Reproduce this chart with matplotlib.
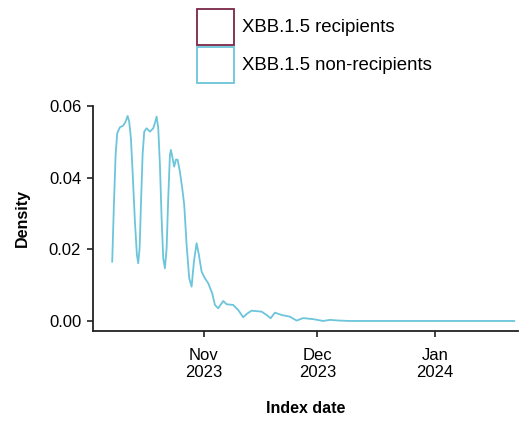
import matplotlib
matplotlib.use("Agg")
import matplotlib.pyplot as plt
from matplotlib.patches import Rectangle
import pandas as pd

plt.rcParams['font.family'] = ['Liberation Sans', 'DejaVu Sans']

# density curve: days from 2023-11-01 and density
days_from_nov1 = [-24.23, -23.78, -23.33, -22.91, -22.19, -21.32, -20.69, -20.16, -19.74, -19.29,
                  -18.84, -18.23, -17.70, -17.36, -16.99, -16.64, -16.20, -15.77, -15.14, -14.27,
                  -13.39, -12.95, -12.50, -12.07, -11.62, -11.18, -10.75, -10.30, -9.85, -9.43,
                  -8.98, -8.72, -8.27, -7.85, -7.40, -6.95, -6.34, -5.73, -5.20, -4.57,
                  -3.88, -3.25, -2.64, -1.93, -1.32, -0.61, 0.26, 1.14, 2.19, 2.91,
                  3.78, 5.10, 6.00, 7.74, 9.06, 10.38, 11.28, 12.60, 15.24, 16.57,
                  17.62, 18.76, 20.53, 22.72, 24.5, 26.2, 28.9, 31.5, 33.3, 35.9,
                  38.6, 50.0, 65.0, 82.0]
density = [0.01655, 0.03237, 0.04633, 0.05239, 0.05406, 0.05451, 0.05562, 0.05721, 0.05562, 0.05099,
           0.04167, 0.02771, 0.01842, 0.01610, 0.02029, 0.03237, 0.04633, 0.05283, 0.05378, 0.05283,
           0.05378, 0.05518, 0.05702, 0.05390, 0.04354, 0.02875, 0.01750, 0.01471, 0.02029, 0.03424,
           0.04633, 0.04773, 0.04541, 0.04307, 0.04502, 0.04502, 0.04167, 0.03704, 0.03237, 0.02121,
           0.01192, 0.00957, 0.01655, 0.02169, 0.01842, 0.01376, 0.01192, 0.01052, 0.00773, 0.00447,
           0.00354, 0.00558, 0.00466, 0.00447, 0.00307, 0.00103, 0.00195, 0.00287, 0.00260, 0.00167,
           0.00075, 0.00232, 0.00167, 0.00120, 0.00010, 0.00080, 0.00050, 0.00000, 0.00030, 0.00010,
           0.00000, 0.00000, 0.00000, 0.00000]

groups = ["XBB.1.5 recipients", "XBB.1.5 non-recipients"]
group_colors = ["#7a2646", "#6cc5db"]
tick_dates = ["2023-11-01", "2023-12-01", "2024-01-01"]
tick_labels = ["Nov\n2023", "Dec\n2023", "Jan\n2024"]

origin = pd.Timestamp("2023-11-01")
dates = [origin + pd.Timedelta(days=d) for d in days_from_nov1]

fig = plt.figure(figsize=(5.27, 4.23), dpi=100)
ax = fig.add_axes([0.1765, 0.2175, 0.8065, 0.532])

ax.plot(dates, density, color=group_colors[1], lw=1.3)

ax.set_xlim(origin + pd.Timedelta(days=-29.3), origin + pd.Timedelta(days=83.0))
ax.set_ylim(-0.0028, 0.06)
ax.set_yticks([0.0, 0.02, 0.04, 0.06])
ax.set_yticklabels(["0.00", "0.02", "0.04", "0.06"])
ax.set_xticks([pd.Timestamp(t) for t in tick_dates])
ax.set_xticklabels(tick_labels, linespacing=1.12)

for s in ["top", "right"]:
    ax.spines[s].set_visible(False)
for s in ["left", "bottom"]:
    ax.spines[s].set_linewidth(1.3)
    ax.spines[s].set_color("#222222")
ax.tick_params(direction="out", length=4.5, width=1.2, labelsize=12, colors="#222222",
               labelcolor="black", pad=4)
ax.tick_params(axis="x", pad=8)

ax.set_ylabel("Density", fontsize=11.5, fontweight="bold", labelpad=14)
ax.set_xlabel("Index date", fontsize=11.5, fontweight="bold", labelpad=15)

# legend drawn as boxes above the plot
W, H = 527, 423
for i, (g, c) in enumerate(zip(groups, group_colors)):
    top = 9 + i * 38
    fig.add_artist(Rectangle((197 / W, 1 - (top + 36) / H), 37 / W, 36 / H,
                             transform=fig.transFigure, facecolor="white",
                             edgecolor=c, lw=1.3))
    fig.text(242 / W, 1 - (top + 19) / H, g, fontsize=13.4, va="center", ha="left")

fig.savefig("out.png", dpi=100)
